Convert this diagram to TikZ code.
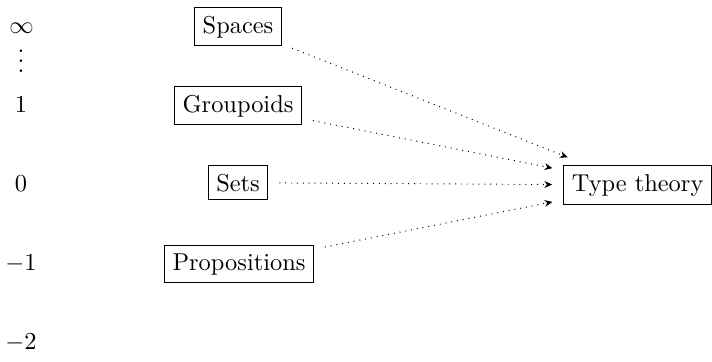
\documentclass[tikz,border=0pt]{standalone}
\usetikzlibrary{arrows.meta}
\begin{document}
\begin{tikzpicture}[
  x={(0.4098pt,0)}, y={(0,-0.4098pt)},
  level/.style={anchor=base},
  typebox/.style={draw, anchor=base, line width=0.4pt},
  embed/.style={dotted, -{Stealth[length=3.2pt,width=2.8pt]},
                shorten <=4.5pt, shorten >=4.5pt}
]
  \useasboundingbox (0,0) rectangle (712,361);

  % truncation levels
  \node[level] (linf) at (21.5,33)  {$\infty$};
  % vertical dots without the top kern of \vdots
  \node[inner sep=0pt] (ldots) at (21,61)
    {\vbox{\baselineskip4pt\lineskiplimit0pt\hbox{.}\hbox{.}\hbox{.}}};
  \node[level] (lone) at (21,112)   {$1$};
  \node[level] (lzero) at (21,191)  {$0$};
  \node[level] (lmone) at (21,270)  {$-1$};
  \node[level] (lmtwo) at (21,349)  {$-2$};

  % kinds of types
  \node[typebox] (spaces) at (238,33)  {Spaces};
  \node[typebox] (grpd)   at (238,112) {Groupoids};
  \node[typebox] (sets)   at (238,191) {Sets};
  \node[typebox] (props)  at (239,270) {Propositions};

  \node[typebox, anchor=base east] (tt) at (712,191) {Type theory};

  % embeddings into type theory
  \draw[embed, shorten >=9pt] (spaces) -- (tt);
  \draw[embed] (grpd) -- (tt);
  \draw[embed] (sets) -- (tt);
  \draw[embed] (props) -- (tt);
\end{tikzpicture}
\end{document}
